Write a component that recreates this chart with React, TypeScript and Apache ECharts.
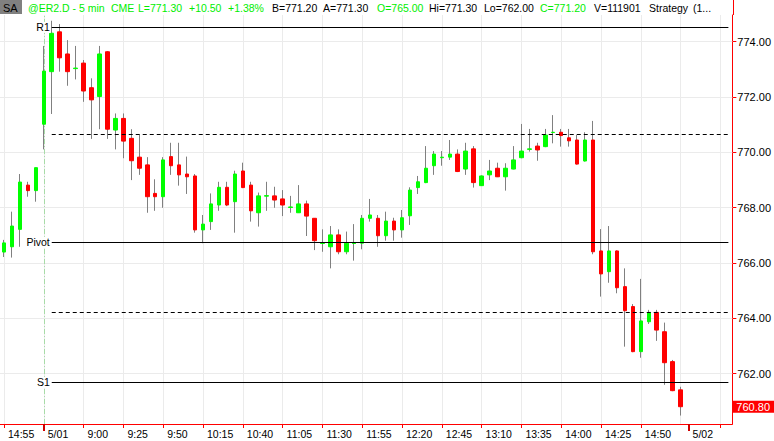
import { useEffect, useRef } from "react";
import * as echarts from "echarts";

// ---- data ----
const prevSessionTimes = ["14:55", "15:00", "15:05", "15:10", "15:15"];
const prevDate = "4/30";
const sessionDate = "5/01";
const nextDate = "5/02";

const opens = [
  766.39, 766.58, 767.21, 768.81, 768.61,
  771.01, 772.91, 774.35, 773.55, 773.02, 773.22, 772.33, 772.01, 773.63, 770.80,
  771.22, 770.50, 769.82, 769.54, 768.51, 768.39, 769.84, 769.54, 769.21, 769.14,
  767.19, 767.49, 768.09, 768.73, 768.21, 769.32, 768.81, 767.81, 768.41, 768.42,
  768.31, 768.00, 767.81, 768.13, 767.61, 766.70, 766.58, 767.01, 766.40, 766.70,
  766.71, 767.61, 767.61, 766.98, 767.51, 767.19, 767.70, 768.72, 768.90, 769.51,
  769.80, 769.82, 769.93, 769.39, 770.12, 768.79, 769.18, 769.42, 769.11, 769.39,
  769.80, 770.10, 770.22, 770.20, 770.71, 770.72, 770.52, 770.44, 769.68, 770.44,
  766.43, 765.68, 766.43, 765.14, 764.42, 762.79, 763.87, 764.21, 763.51, 762.43,
  761.41,
];
const closes = [
  766.72, 767.33, 768.92, 768.61, 769.44,
  772.93, 774.30, 773.41, 772.91, 773.04, 772.21, 771.89, 773.55, 770.83, 771.22,
  770.40, 769.69, 769.42, 768.39, 768.39, 769.72, 769.51, 769.18, 769.11, 767.19,
  767.40, 768.13, 768.73, 768.09, 769.21, 768.72, 767.88, 768.42, 768.43, 768.27,
  768.09, 768.02, 768.13, 767.69, 766.80, 766.71, 767.01, 766.40, 766.71, 766.72,
  767.61, 767.73, 766.98, 767.51, 767.19, 767.63, 768.63, 768.93, 769.42, 769.93,
  769.82, 769.93, 769.30, 770.04, 768.90, 769.14, 769.32, 769.11, 769.42, 769.72,
  770.04, 770.12, 770.08, 770.62, 770.72, 770.60, 770.41, 769.57, 770.44, 766.40,
  765.60, 766.43, 765.10, 764.27, 762.79, 763.90, 764.21, 763.57, 762.39, 761.38,
  760.80,
];
const lows = [
  766.21, 766.19, 766.58, 768.39, 768.21,
  770.10, 771.38, 772.91, 772.40, 772.63, 771.82, 770.48, 770.83, 770.48, 770.10,
  769.78, 768.99, 769.18, 767.81, 767.88, 767.99, 769.18, 768.79, 768.49, 767.09,
  766.71, 767.19, 767.88, 768.05, 767.09, 768.70, 767.49, 767.31, 767.88, 767.99,
  767.69, 767.81, 767.81, 766.97, 766.46, 766.40, 765.80, 766.31, 766.31, 766.08,
  766.49, 767.49, 766.58, 766.80, 766.80, 766.91, 767.37, 768.49, 768.88, 769.18,
  769.51, 769.72, 769.28, 769.18, 768.72, 768.78, 768.99, 769.10, 768.61, 769.38,
  769.78, 770.02, 769.69, 770.18, 770.32, 770.20, 770.20, 769.55, 769.66, 766.31,
  764.78, 765.28, 764.90, 762.97, 762.77, 762.57, 763.79, 763.18, 761.59, 761.36,
  760.48,
];
const highs = [
  766.83, 767.85, 769.21, 768.93, 769.44,
  773.84, 774.75, 774.63, 774.05, 773.84, 773.33, 772.67, 773.84, 773.65, 771.40,
  771.40, 770.83, 770.62, 769.82, 769.02, 769.82, 770.34, 770.34, 769.84, 769.21,
  767.73, 768.51, 768.93, 768.93, 769.33, 769.62, 768.93, 768.54, 768.93, 768.75,
  768.63, 768.42, 768.81, 768.25, 767.62, 767.21, 767.33, 767.21, 767.13, 767.40,
  767.73, 768.31, 767.73, 767.85, 767.63, 767.91, 768.73, 769.14, 770.22, 770.04,
  770.04, 770.44, 770.10, 770.34, 770.22, 769.16, 769.72, 769.62, 769.60, 770.22,
  771.02, 770.84, 770.34, 770.84, 771.34, 770.84, 770.84, 770.62, 770.72, 771.13,
  767.22, 767.33, 766.45, 765.80, 764.51, 765.42, 764.30, 764.30, 763.84, 762.49,
  761.52,
];

const yTicks = [762, 764, 766, 768, 770, 772, 774];
const levelNames = ["R1", "", "Pivot", "", "S1"];
const levelValues = [774.51, 770.65, 766.74, 764.21, 761.68];
const lastPrice = 760.8;

const headerParts = [
  { text: "@ER2.D - 5 min", color: "green" },
  { text: "CME", color: "green" },
  { text: "L=771.30", color: "green" },
  { text: "+10.50", color: "green" },
  { text: "+1.38%", color: "green" },
  { text: "B=771.20", color: "black" },
  { text: "A=771.30", color: "black" },
  { text: "O=765.00", color: "green" },
  { text: "Hi=771.30", color: "black" },
  { text: "Lo=762.00", color: "black" },
  { text: "C=771.20", color: "green" },
  { text: "V=111901", color: "black" },
  { text: "Strategy", color: "black" },
  { text: "(1...", color: "black" },
];

// ---- category axis: 5-minute bars ----
function sessionTimes(date: string, count: number): string[] {
  const out: string[] = [];
  let m = 8 * 60 + 35;
  for (let i = 0; i < count; i++) {
    out.push(`${date} ${Math.floor(m / 60)}:${String(m % 60).padStart(2, "0")}`);
    m += 5;
  }
  return out;
}
const categories = [
  ...prevSessionTimes.map((t) => `${prevDate} ${t}`),
  ...sessionTimes(sessionDate, 81),
  ...sessionTimes(nextDate, 6),
];

const FONT = "'Liberation Sans', Arial, sans-serif";
const GREEN = "#00ff00";
const RED = "#ff0000";
const WICK = "#808080";
const GRIDC = "#ebebeb";

export default function App() {
  const ref = useRef<HTMLDivElement>(null);
  useEffect(() => {
    document.body.style.margin = "0";
    const chart = echarts.init(ref.current!, null, { renderer: "svg" });

    const wickData = opens.map((o, i) => [o, closes[i], lows[i], highs[i]]);
    const bodyData = opens.map((o, i) => [o, closes[i], Math.min(o, closes[i]), Math.max(o, closes[i])]);

    const labelIdx = (i: number) => (i % 5 === 0 && i <= 80) || i === 86;
    const tickIdx = (i: number) => labelIdx(i) || i === 90;
    const vGrid = categories.map((_, i) => i).filter((i) => i % 5 === 0);
    const dayStart = categories.findIndex((c) => c.startsWith(sessionDate));
    const nextStart = categories.findIndex((c) => c.startsWith(nextDate));
    const lastCat = categories.length - 1;

    const headerX = [28, 111, 138, 189, 228, 272, 323, 377, 429, 484, 540, 594, 649, 693];

    const option: any = {
      animation: false,
      backgroundColor: "#ffffff",
      grid: { left: -2, top: 15, width: 735, height: 409, containLabel: false },
      xAxis: [
        {
          type: "category",
          data: categories,
          boundaryGap: true,
          axisLine: { show: true, lineStyle: { color: RED, width: 1 } },
          axisTick: { show: true, alignWithLabel: true, interval: (i: number) => tickIdx(i), length: 4, lineStyle: { color: RED } },
          axisLabel: {
            show: true,
            interval: (i: number) => labelIdx(i),
            formatter: (v: string) => {
              const [d, t] = v.split(" ");
              return t === "8:35" ? d : t;
            },
            align: "left",
            padding: [0, 0, 0, 4],
            margin: 4,
            color: "#000",
            fontSize: 10.5,
            fontFamily: FONT,
          },
          splitLine: { show: false },
        },
        {
          type: "category",
          data: categories,
          position: "bottom",
          boundaryGap: true,
          axisLine: { show: false },
          axisTick: {
            show: true,
            alignWithLabel: true,
            interval: (i: number) => i === dayStart || i === nextStart,
            length: 7,
            lineStyle: { color: "#d00000", width: 2 },
          },
          axisLabel: { show: false },
          splitLine: { show: false },
        },
      ],
      yAxis: {
        type: "value",
        position: "right",
        min: 760.175,
        max: 774.958,
        axisLine: { show: true, lineStyle: { color: RED, width: 1 } },
        axisTick: { show: true, customValues: yTicks, length: 4, lineStyle: { color: RED } },
        axisLabel: {
          show: true,
          customValues: yTicks,
          formatter: (v: number) => v.toFixed(2),
          margin: 5,
          color: "#000",
          fontSize: 11,
          fontFamily: FONT,
        },
        splitLine: { show: false },
      },
      graphic: [
        { type: "line", shape: { x1: 733.5, y1: 0, x2: 733.5, y2: 15 }, style: { stroke: RED, lineWidth: 1 }, silent: true },
        { type: "rect", shape: { x: 0, y: 0, width: 22, height: 14 }, style: { fill: "#808080" }, silent: true },
        {
          type: "text",
          x: 3,
          y: 7.5,
          style: { text: "SA", fill: "#000", fontSize: 11, fontFamily: FONT, verticalAlign: "middle" },
          silent: true,
        },
        ...headerParts.map((p, i) => ({
          type: "text",
          x: headerX[i],
          y: 8,
          silent: true,
          style: {
            text: p.text,
            fill: p.color === "green" ? "#00ee00" : "#000000",
            fontSize: 10.5,
            fontFamily: FONT,
            verticalAlign: "middle",
          },
        })),
      ],
      series: [
        {
          type: "line",
          data: [],
          z: 1,
          silent: true,
          markLine: {
            z: 1,
            silent: true,
            symbol: ["none", "none"],
            label: { show: false },
            data: [
              ...yTicks.map((v) => ({ yAxis: v, lineStyle: { color: GRIDC, width: 1, type: "solid" } })),
              ...vGrid.map((i) => ({ xAxis: i, lineStyle: { color: GRIDC, width: 1, type: "solid" } })),
              { xAxis: dayStart, lineStyle: { color: "#a8dca8", width: 1, type: [5, 2, 1, 2] } },
            ],
          },
        },
        {
          type: "candlestick",
          name: "wick",
          data: wickData,
          barWidth: 1,
          z: 2,
          silent: true,
          itemStyle: { color: WICK, color0: WICK, borderColor: WICK, borderColor0: WICK, borderWidth: 1 },
        },
        {
          type: "candlestick",
          name: "body",
          data: bodyData,
          barWidth: 4,
          z: 3,
          silent: true,
          itemStyle: { color: GREEN, color0: RED, borderColor: GREEN, borderColor0: RED, borderWidth: 1 },
        },
        {
          type: "line",
          data: [],
          z: 5,
          silent: true,
          markLine: {
            z: 6,
            silent: true,
            symbol: ["none", "none"],
            data: [
              ...levelValues.map((v, k) => [
                {
                  coord: [dayStart + 1, v],
                  lineStyle: { color: "#000", width: 1, type: levelNames[k] ? "solid" : [4, 3] },
                  label: {
                    show: !!levelNames[k],
                    position: "start",
                    distance: 1,
                    formatter: levelNames[k] || " ",
                    color: "#000",
                    backgroundColor: "#fff",
                    padding: [0, 1, 0, 1],
                    fontSize: 10.5,
                    fontFamily: FONT,
                  },
                },
                { coord: [lastCat, v] },
              ]),
              {
                yAxis: lastPrice,
                lineStyle: { color: "rgba(0,0,0,0)", width: 0 },
                label: {
                  show: true,
                  position: "end",
                  distance: 0,
                  formatter: lastPrice.toFixed(2),
                  backgroundColor: RED,
                  color: "#ffffff",
                  padding: [1, 4, 0, 4],
                  fontSize: 11,
                  fontFamily: FONT,
                },
              },
            ],
          },
        },
      ],
    };
    chart.setOption(option);
    return () => chart.dispose();
  }, []);
  return <div ref={ref} style={{ width: 774, height: 441 }} />;
}
